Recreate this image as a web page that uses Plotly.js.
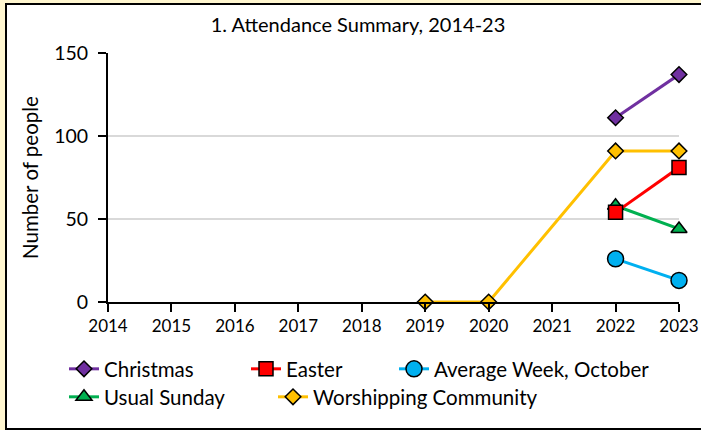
<!DOCTYPE html>
<html>
<head>
<meta charset="utf-8">
<script src="https://cdn.plot.ly/plotly-3.0.1.min.js"></script>
<style>
  html, body { margin: 0; padding: 0; width: 701px; height: 430px; overflow: hidden; background: #FFF6CF; }
  #frame { position: absolute; left: 5px; top: 3px; width: 720px; height: 427px; box-sizing: border-box;
           border: 2.5px solid #000; background: #FFFFFF; }
  #chart { position: absolute; left: 0; top: 0; width: 701px; height: 430px; }
</style>
</head>
<body>
<div id="frame"></div>
<div id="chart"></div>
<script>
const years = [2014, 2015, 2016, 2017, 2018, 2019, 2020, 2021, 2022, 2023];
const christmas   = [null, null, null, null, null, null, null, null, 111, 137];
const easter      = [null, null, null, null, null, null, null, null, 54, 81];
const averageWeek = [null, null, null, null, null, null, null, null, 26, 13];
const usualSunday = [null, null, null, null, null, null, null, null, 58, 44];
const worshipping = [null, null, null, null, null, 0, 0, null, 91, 91];

const seriesNames = ["Christmas", "Easter", "Average Week, October", "Usual Sunday", "Worshipping Community"];
const FONT = "Lato, 'Open Sans', sans-serif";

function tr(name, y, color, symbol, size, legendId) {
  return {
    x: years, y: y, name: name, type: "scatter", mode: "lines+markers",
    connectgaps: true, cliponaxis: false, legend: legendId,
    line: { color: color, width: 3 },
    marker: { symbol: symbol, size: size, color: color, line: { color: "#000", width: 1.5 } }
  };
}

// draw order: worshipping underneath
const data = [
  tr(seriesNames[4], worshipping, "#FFC000", "diamond", 12, "legend5"),
  tr(seriesNames[3], usualSunday, "#00B050", "triangle-up", 14, "legend4"),
  tr(seriesNames[2], averageWeek, "#00B0F0", "circle", 16, "legend3"),
  tr(seriesNames[1], easter, "#FF0000", "square", 14, "legend2"),
  tr(seriesNames[0], christmas, "#7030A0", "diamond", 12, "legend")
];

function leg(xpx, ypx) {
  return { xref: "container", yref: "container", x: xpx / 701, y: 1 - ypx / 430,
           xanchor: "left", yanchor: "middle", orientation: "h",
           bgcolor: "rgba(0,0,0,0)", font: { family: FONT, size: 20.5, color: "#000" } };
}

const layout = {
  width: 701, height: 430,
  paper_bgcolor: "rgba(0,0,0,0)", plot_bgcolor: "rgba(0,0,0,0)",
  margin: { l: 108, r: 22, t: 53, b: 128 },
  font: { family: FONT, color: "#000" },
  title: { text: "1. Attendance Summary, 2014-23", xref: "container", x: 358 / 701, xanchor: "center",
           yref: "container", y: 1 - 25 / 430, yanchor: "middle",
           font: { family: FONT, size: 20, color: "#000" } },
  xaxis: {
    range: [2014, 2023], tickvals: years, ticktext: years.map(String),
    showgrid: false, zeroline: false, showline: true, linecolor: "#000", linewidth: 2,
    ticks: "outside", ticklen: 8, tickwidth: 2, tickcolor: "#000",
    tickfont: { family: FONT, size: 17, color: "#000" }
  },
  yaxis: {
    range: [0, 150], tickvals: [0, 50, 100, 150],
    showgrid: true, gridcolor: "#D9D9D9", gridwidth: 2, zeroline: false,
    showline: true, linecolor: "#000", linewidth: 2,
    ticks: "outside", ticklen: 8, tickwidth: 2, tickcolor: "#000", ticklabelstandoff: 6,
    tickfont: { family: FONT, size: 19.5, color: "#000" },
    title: { text: "Number of people", standoff: 10, font: { family: FONT, size: 20.5, color: "#000" } }
  },
  legend:  leg(64, 369),
  legend2: leg(246, 369),
  legend3: leg(394, 369),
  legend4: leg(64, 397),
  legend5: leg(273, 397),
  showlegend: true
};

Plotly.newPlot("chart", data, layout, { displayModeBar: false, staticPlot: true });
</script>
</body>
</html>
